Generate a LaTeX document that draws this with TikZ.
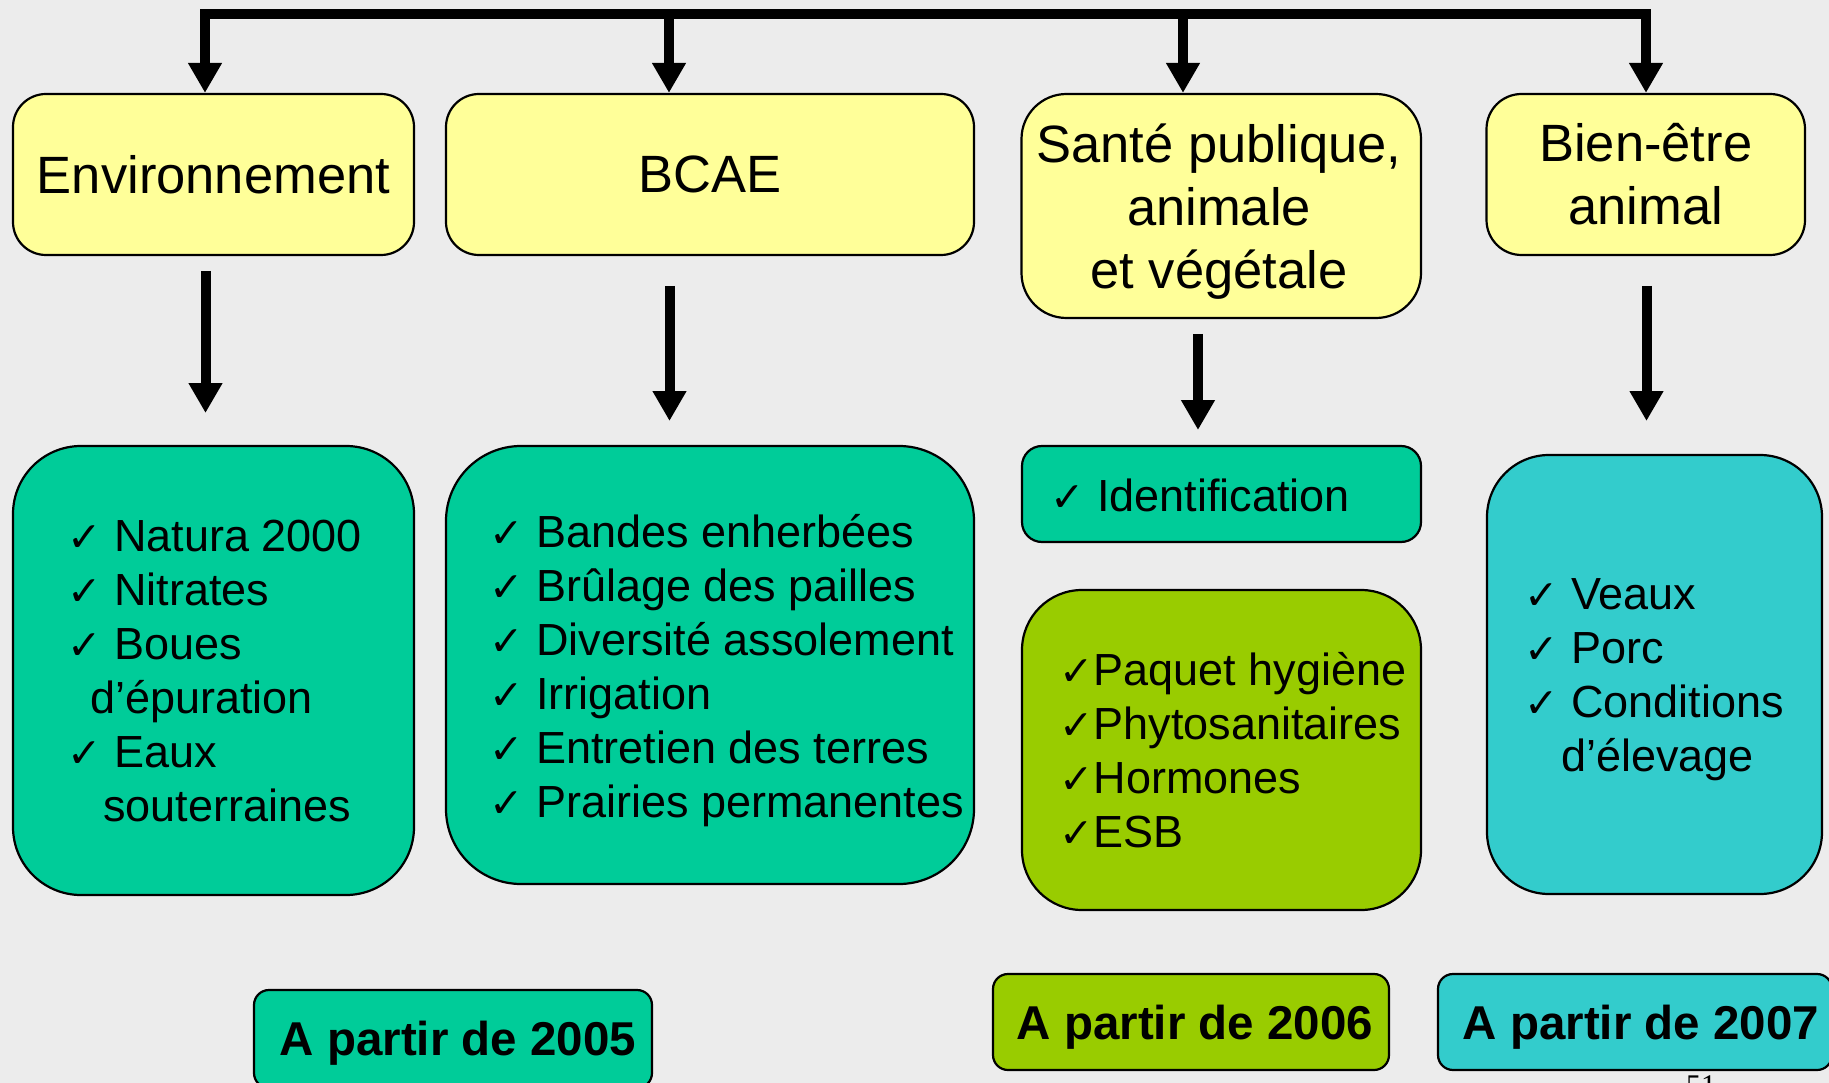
\documentclass[tikz,border=0pt]{standalone}
\usepackage{fontspec}
\setmainfont{Liberation Sans}
\newfontfamily\dejavu{DejaVu Sans}
\newfontfamily\pagefont{Liberation Serif}
\usetikzlibrary{arrows.meta}
\definecolor{bgc}{RGB}{236,236,236}
\definecolor{yel}{RGB}{255,255,153}
\definecolor{grn}{RGB}{0,204,153}
\definecolor{olv}{RGB}{153,204,0}
\definecolor{cyn}{RGB}{51,204,204}
\newcommand{\ck}{{\dejavu\fontsize{41}{54}\selectfont ✓}}
\tikzset{
  box/.style={draw=black, line width=2.2pt, rectangle, inner sep=0pt},
  ybox/.style={box, fill=yel, rounded corners=33pt, font=\fontsize{52.5}{63}\selectfont, align=center},
  head/.style={inner sep=0pt, font=\fontsize{52.5}{63}\selectfont, align=center},
  lst/.style={anchor=base west, inner sep=0pt, font=\fontsize{45}{54}\selectfont},
  arr/.style={line width=10pt, -{Triangle[length=30pt,width=32pt]}},
  arrtwo/.style={line width=10pt, line join=miter, {Triangle[length=30pt,width=32pt]}-{Triangle[length=30pt,width=32pt]}},
  datebox/.style={box, rounded corners=15pt},
  datetxt/.style={anchor=base, inner sep=0pt, font=\bfseries\fontsize{47.5}{55}\selectfont},
}
\begin{document}
\begin{tikzpicture}[x=1pt,y=-1pt]
\fill[bgc] (0,0) rectangle (1829,1083);
\useasboundingbox (0,0) rectangle (1829,1083);
\clip (0,0) rectangle (1829,1083);

% header boxes
\node[ybox, minimum width=401pt, minimum height=161pt] (env) at (213.5,174.5) {Environnement};
\node[ybox, minimum width=528pt, minimum height=161pt] (bcae) at (710,174.5) {BCAE};
\node[ybox, rounded corners=45pt, minimum width=399.5pt, minimum height=224pt] (sante) at (1221.25,206) {};
\node[head] (santet) at (1219,211.5) {Santé publique,\\animale\\et végétale};
\node[ybox, rounded corners=35pt, minimum width=318.5pt, minimum height=161pt] (bien) at (1645.75,174.5) {Bien-être\\animal};

% top connectors
\coordinate (c1) at (205,14);
\coordinate (c2) at (669,14);
\coordinate (c3) at (1183,14);
\coordinate (c4) at (1646,14);
\draw[arrtwo] (c1 |- env.north) -- (c1) -- (c4) -- (c4 |- bien.north);
\draw[arr] (c2) -- (c2 |- bcae.north);
\draw[arr] (c3) -- (c3 |- sante.north);

% lower boxes
\node[box, fill=grn, rounded corners=68pt, minimum width=401pt, minimum height=449pt] (envl) at (213.5,670.5) {};
\node[box, fill=grn, rounded corners=75pt, minimum width=528pt, minimum height=438pt] (bcael) at (710,665) {};
\node[box, fill=grn, rounded corners=20pt, minimum width=399pt, minimum height=96pt] (ident) at (1221.5,494) {};
\node[box, fill=olv, rounded corners=60pt, minimum width=399pt, minimum height=320pt] (hyg) at (1221.5,750) {};
\node[box, fill=cyn, rounded corners=62pt, minimum width=335pt, minimum height=439pt] (bienl) at (1654.5,674.5) {};

% lower arrows
\coordinate (e1) at (205.5,271);
\coordinate (e2) at (205.5,413);
\coordinate (b1) at (669.5,286);
\coordinate (b2) at (669.5,421);
\coordinate (s1) at (1198,334);
\coordinate (s2) at (1198,430);
\coordinate (w1) at (1646.5,286);
\coordinate (w2) at (1646.5,421);
\draw[arr] (e1) -- (e2);
\draw[arr] (b1) -- (b2);
\draw[arr] (s1) -- (s2);
\draw[arr] (w1) -- (w2);

% list texts
\node[lst] (envt) at (67,551) {\vtop{\hbox{\ck\ Natura 2000}\hbox{\ck\ Nitrates}\hbox{\ck\ Boues}\hbox{\hspace{23pt}d’épuration}\hbox{\ck\ Eaux}\hbox{\hspace{36pt}souterraines}}};
\node[lst] (bcaet) at (489,547) {\vtop{\hbox{\ck\ Bandes enherbées}\hbox{\ck\ Brûlage des pailles}\hbox{\ck\ Diversité assolement}\hbox{\ck\ Irrigation}\hbox{\ck\ Entretien des terres}\hbox{\ck\ Prairies permanentes}}};
\node[lst] (identt) at (1050,511) {\ck\ Identification};
\node[lst] (hygt) at (1059,685) {\vtop{\hbox{\ck Paquet hygiène}\hbox{\ck Phytosanitaires}\hbox{\ck Hormones}\hbox{\ck ESB}}};
\node[lst] (bient) at (1524,609) {\vtop{\hbox{\ck\ Veaux}\hbox{\ck\ Porc}\hbox{\ck\ Conditions}\hbox{\hspace{37pt}d’élevage}}};

% date boxes
\node[datebox, fill=grn, minimum width=398pt, minimum height=98pt] (d5) at (453,1039) {};
\node[datebox, fill=olv, minimum width=396pt, minimum height=96pt] (d6) at (1191,1022) {};
\node[datebox, fill=cyn, minimum width=394pt, minimum height=96pt] (d7) at (1635,1022) {};
\node[datetxt] (d5t) at (458,1055) {A partir de 2005};
\node[datetxt] (d6t) at (1195,1039) {A partir de 2006};
\node[datetxt] (d7t) at (1641,1039) {A partir de 2007};

% page number
\node[anchor=north west, inner sep=0pt, font=\pagefont\fontsize{30}{30}\selectfont] (pg) at (1686,1075) {51};
\end{tikzpicture}
\end{document}
